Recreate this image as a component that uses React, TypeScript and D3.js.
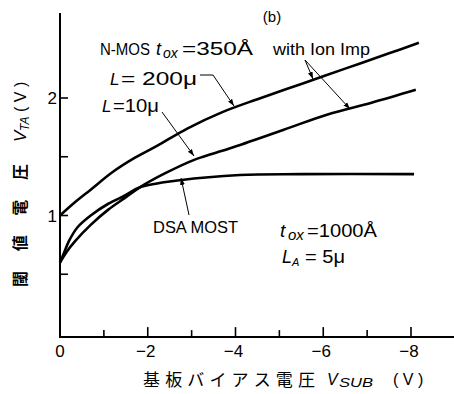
import React from "react";
import * as d3 from "d3";

const vsub200 = [0, -0.3, -0.7, -1.2, -1.7, -2.2, -2.9, -3.7, -4.5, -5.5, -6.5, -7.5, -8.18];
const vta200 = [1.0, 1.1, 1.22, 1.37, 1.49, 1.59, 1.74, 1.88, 1.99, 2.12, 2.25, 2.38, 2.47];

const vsub10 = [0, -0.15, -0.34, -0.7, -1.1, -1.48, -1.82, -2.4, -3.1, -3.86, -5.1, -6.1, -7.1, -8.11];
const vta10 = [0.6, 0.69, 0.78, 0.92, 1.05, 1.15, 1.24, 1.36, 1.48, 1.57, 1.73, 1.86, 1.96, 2.07];

const vsubDSA = [0, -0.1, -0.2, -0.4, -0.7, -1.1, -1.48, -1.82, -2.73, -4.1, -5.5, -8.07];
const vtaDSA = [0.6, 0.69, 0.78, 0.9, 1.0, 1.1, 1.17, 1.24, 1.3, 1.345, 1.352, 1.352];

const xTicks = [-1, -2, -3, -4, -5, -6, -7, -8];
const xTickLabels = [0, -2, -4, -6, -8];
const yTicks = [0.5, 1, 1.5, 2];
const yTickLabels = [1, 2];

const W = 454;
const H = 394;

export default function App() {
  const x = d3.scaleLinear().domain([0, -8]).range([60, 411]);
  const y = d3.scaleLinear().domain([0, 2]).range([333, 98]);
  const line = d3
    .line<[number, number]>()
    .x((d) => x(d[0]))
    .y((d) => y(d[1]))
    .curve(d3.curveCatmullRom.alpha(0.5));
  const mk = (a: number[], b: number[]) => a.map((v, i) => [v, b[i]] as [number, number]);
  const curves = [mk(vsub200, vta200), mk(vsub10, vta10), mk(vsubDSA, vtaDSA)];
  const axisY = y(-0.035);
  const fontLatin = "'Liberation Sans', Arial, sans-serif";
  const fontJP = "'Noto Sans CJK JP', sans-serif";
  const sg = "spacingAndGlyphs";

  return (
    <svg width={W} height={H} style={{ position: "absolute", left: 0, top: 0, background: "#fff" }}>
      <defs>
        <marker id="arr" viewBox="0 0 10 10" refX="10" refY="5" markerWidth="7" markerHeight="7" orient="auto">
          <path d="M0,1.5 L10,5 L0,8.5 Z" fill="#000" />
        </marker>
      </defs>
      <rect width={W} height={H} fill="#fff" />
      {/* axes */}
      <line x1={60} y1={13} x2={60} y2={axisY} stroke="#000" strokeWidth={2} />
      <line x1={59} y1={axisY} x2={454} y2={axisY} stroke="#000" strokeWidth={2} />
      {yTicks.map((t) => (
        <line key={"yt" + t} x1={60} x2={68} y1={y(t)} y2={y(t)} stroke="#000" strokeWidth={1.6} />
      ))}
      {xTicks.map((t) => (
        <line key={"xt" + t} x1={x(t)} x2={x(t)} y1={axisY} y2={axisY - (t % 2 === 0 ? 10 : 7)} stroke="#000" strokeWidth={1.6} />
      ))}
      {yTickLabels.map((t) => (
        <text key={"yl" + t} x={57} y={y(t) + 6} fontSize={17} fontFamily={fontLatin} textAnchor="end">
          {t}
        </text>
      ))}
      {xTickLabels.map((t) => (
        <text key={"xl" + t} x={x(t) + (t === 0 ? 0 : -2)} y={357} fontSize={17} fontFamily={fontLatin} textAnchor="middle">
          {t === 0 ? "0" : "\u2212" + Math.abs(t)}
        </text>
      ))}
      {/* curves */}
      {curves.map((c, i) => (
        <path key={"c" + i} d={line(c) || ""} fill="none" stroke="#000" strokeWidth={2.6} />
      ))}
      {/* annotations */}
      <text x={272} y={22} fontSize={15} fontFamily={fontLatin} textAnchor="middle">(b)</text>
      <text x={100} y={55} fontSize={16} fontFamily={fontLatin} textLength={50} lengthAdjust={sg}>N-MOS</text>
      <text x={156} y={55} fontSize={18} fontFamily={fontLatin} fontStyle="italic">t</text>
      <text x={163} y={58} fontSize={14} fontFamily={fontLatin} fontStyle="italic">ox</text>
      <text x={182} y={55} fontSize={19} fontFamily={fontLatin} textLength={71} lengthAdjust={sg}>=350Å</text>
      <text x={273} y={55} fontSize={16} fontFamily={fontLatin} textLength={97} lengthAdjust={sg}>with Ion Imp</text>
      <line x1={305} y1={60} x2={313} y2={79} stroke="#000" strokeWidth={1} markerEnd="url(#arr)" />
      <line x1={305} y1={60} x2={350} y2={109} stroke="#000" strokeWidth={1} markerEnd="url(#arr)" />

      <text x={110} y={85} fontSize={17} fontFamily={fontLatin} fontStyle="italic">L</text>
      <text x={121} y={85} fontSize={18} fontFamily={fontLatin} textLength={76} lengthAdjust={sg}>= 200μ</text>
      <polyline points="200,75 213,75 234,106" fill="none" stroke="#000" strokeWidth={1} markerEnd="url(#arr)" />

      <text x={102} y={112} fontSize={17} fontFamily={fontLatin} fontStyle="italic">L</text>
      <text x={113} y={112} fontSize={18} fontFamily={fontLatin} textLength={46} lengthAdjust={sg}>=10μ</text>
      <line x1={162} y1={112} x2={194} y2={156} stroke="#000" strokeWidth={1} markerEnd="url(#arr)" />

      <text x={153} y={233} fontSize={17} fontFamily={fontLatin} textLength={85} lengthAdjust={sg}>DSA MOST</text>
      <line x1={189} y1={215} x2={181} y2={178} stroke="#000" strokeWidth={1} markerEnd="url(#arr)" />

      <text x={280} y={237} fontSize={19} fontFamily={fontLatin} fontStyle="italic">t</text>
      <text x={288} y={240} fontSize={15} fontFamily={fontLatin} fontStyle="italic">ox</text>
      <text x={307} y={237} fontSize={19} fontFamily={fontLatin} textLength={70} lengthAdjust={sg}>=1000Å</text>
      <text x={282} y={263} fontSize={18} fontFamily={fontLatin} fontStyle="italic">L</text>
      <text x={292} y={266} fontSize={11} fontFamily={fontLatin} fontStyle="italic">A</text>
      <text x={305} y={263} fontSize={18} fontFamily={fontLatin} textLength={40} lengthAdjust={sg}>= 5μ</text>

      {/* y axis title */}
      <g transform="translate(26,287) rotate(-90)">
        <text x={0} y={0} fontSize={16} fontFamily={fontJP} fontWeight="bold" textLength={123} lengthAdjust="spacing">閾値電圧</text>
        <text x={145} y={0} fontSize={17} fontFamily={fontLatin} fontStyle="italic">V</text>
        <text x={156} y={3} fontSize={12} fontFamily={fontLatin} fontStyle="italic">TA</text>
        <text x={175} y={0} fontSize={16} fontFamily={fontLatin}>( V )</text>
      </g>
      {/* x axis title */}
      <text x={143} y={386} fontSize={17} fontFamily={fontJP} textLength={172} lengthAdjust="spacing">基板バイアス電圧</text>
      <text x={327} y={385} fontSize={16} fontFamily={fontLatin} fontStyle="italic">V</text>
      <text x={339} y={387} fontSize={13} fontFamily={fontLatin} fontStyle="italic" textLength={34} lengthAdjust={sg}>SUB</text>
      <text x={393} y={385} fontSize={16} fontFamily={fontLatin}>( V )</text>
    </svg>
  );
}
